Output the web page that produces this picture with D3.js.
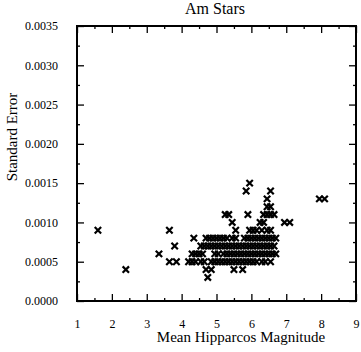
<!DOCTYPE html>
<html>
<head>
<meta charset="utf-8">
<title>Am Stars</title>
<script src="https://cdn.jsdelivr.net/npm/d3@7"></script>
<style>
  html, body { margin: 0; padding: 0; background: #fff; overflow: hidden; }
  svg { display: block; }
  text { font-family: "Liberation Serif", "DejaVu Serif", serif; fill: #000; }
</style>
</head>
<body>
<svg width="361" height="352" id="mainsvg"></svg>
<script>
  // rows of equal standard error, each with its magnitudes
  const isolated = [[1.6, 0.0009], [2.4, 0.0004], [3.35, 0.0006], [3.65, 0.0009],
                    [3.8, 0.0007], [3.65, 0.0005], [3.85, 0.0005], [6.95, 0.0010],
                    [7.1, 0.0010], [7.95, 0.0013], [8.1, 0.0013]];
  const row3 = [4.75];
  const row4 = [4.7, 4.85, 5.5, 5.75];
  const row5 = [4.2, 4.3, 4.4, 4.55, 4.65, 4.85, 4.95, 5.05, 5.15, 5.25, 5.35, 5.45, 5.55,
                5.65, 5.75, 5.85, 5.95, 6.05, 6.15, 6.3, 6.4, 6.55];
  const row6 = [4.3, 4.4, 4.5, 4.6, 4.95, 5.05, 5.2, 5.3, 5.4, 5.5, 5.6, 5.7, 5.8, 5.9,
                6.0, 6.1, 6.2, 6.3, 6.4, 6.5, 6.6, 6.7];
  const row7 = [4.55, 4.65, 4.75, 4.85, 4.95, 5.05, 5.15, 5.25, 5.35, 5.45, 5.55, 5.65,
                5.75, 5.85, 5.95, 6.05, 6.15, 6.25, 6.35, 6.45, 6.55, 6.65];
  const row8 = [4.35, 4.7, 4.8, 4.9, 5.0, 5.1, 5.2, 5.3, 5.45, 5.55, 5.8, 5.9, 6.0, 6.1,
                6.2, 6.3, 6.4, 6.5, 6.6, 6.7];
  const row9 = [5.55, 5.95, 6.05, 6.15, 6.3, 6.45, 6.55];
  const row10 = [5.45, 6.25, 6.35];
  const row11 = [5.25, 5.35, 5.9, 6.35, 6.45, 6.55, 6.65];
  const row12 = [6.45, 6.55];
  const row13 = [6.45];
  const row14 = [5.85, 6.55];
  const row15 = [5.95];

  const xTicks = [1, 2, 3, 4, 5, 6, 7, 8, 9];
  const yTicks = [0, 0.0005, 0.001, 0.0015, 0.002, 0.0025, 0.003, 0.0035];

  const rows = [[0.0003, row3], [0.0004, row4], [0.0005, row5], [0.0006, row6],
                [0.0007, row7], [0.0008, row8], [0.0009, row9], [0.0010, row10],
                [0.0011, row11], [0.0012, row12], [0.0013, row13], [0.0014, row14],
                [0.0015, row15]];
  const data = isolated.map(d => ({ mag: d[0], err: d[1] }));
  rows.forEach(r => r[1].forEach(m => data.push({ mag: m, err: r[0] })));

  const svg = d3.select('#mainsvg');
  const margin = { top: 26, right: 5, bottom: 51, left: 77 };
  const innerWidth = 361 - margin.left - margin.right;
  const innerHeight = 352 - margin.top - margin.bottom;

  const g = svg.append('g')
    .attr('transform', `translate(${margin.left}, ${margin.top})`);

  const xScale = d3.scaleLinear().domain([1, 9]).range([0, innerWidth]);
  const yScale = d3.scaleLinear().domain([0, 0.0035]).range([innerHeight, 0]);

  const fmt = d3.format('.4f');

  // inward ticks on all four sides, major + minor
  const xMinor = d3.range(1.5, 9, 1);
  const yMinor = d3.range(0.00025, 0.0035, 0.0005);

  const tickOnly = (sel) => sel.selectAll('text').remove();

  g.append('g').attr('transform', `translate(0, ${innerHeight})`)
    .call(d3.axisBottom(xScale).tickValues(xTicks).tickFormat(d3.format('d'))
      .tickSizeInner(-7).tickSizeOuter(0).tickPadding(18));
  g.append('g').attr('transform', `translate(0, ${innerHeight})`)
    .call(d3.axisBottom(xScale).tickValues(xMinor).tickSizeInner(-3).tickSizeOuter(0)).call(tickOnly);
  g.append('g')
    .call(d3.axisTop(xScale).tickValues(xTicks).tickSizeInner(-7).tickSizeOuter(0)).call(tickOnly);
  g.append('g')
    .call(d3.axisTop(xScale).tickValues(xMinor).tickSizeInner(-3).tickSizeOuter(0)).call(tickOnly);

  g.append('g')
    .call(d3.axisLeft(yScale).tickValues(yTicks).tickFormat(fmt)
      .tickSizeInner(-7).tickSizeOuter(0).tickPadding(19));
  g.append('g')
    .call(d3.axisLeft(yScale).tickValues(yMinor).tickSizeInner(-3).tickSizeOuter(0)).call(tickOnly);
  g.append('g').attr('transform', `translate(${innerWidth}, 0)`)
    .call(d3.axisRight(yScale).tickValues(yTicks).tickSizeInner(-7).tickSizeOuter(0)).call(tickOnly);
  g.append('g').attr('transform', `translate(${innerWidth}, 0)`)
    .call(d3.axisRight(yScale).tickValues(yMinor).tickSizeInner(-3).tickSizeOuter(0)).call(tickOnly);

  g.selectAll('.domain').remove();
  g.selectAll('.tick line').attr('stroke', '#000').attr('stroke-width', 1.3);
  g.selectAll('.tick text').attr('font-size', 12).style('font-family', '"Liberation Serif", serif');

  g.append('rect')
    .attr('width', innerWidth).attr('height', innerHeight)
    .attr('fill', 'none').attr('stroke', '#000').attr('stroke-width', 2);

  // x markers
  const s = 3.2;
  g.selectAll('.pt').data(data).enter().append('path')
    .attr('class', 'pt')
    .attr('d', d => {
      const cx = xScale(d.mag), cy = yScale(d.err);
      return `M${cx - s},${cy - s}L${cx + s},${cy + s}M${cx - s},${cy + s}L${cx + s},${cy - s}`;
    })
    .attr('stroke', '#000').attr('stroke-width', 2.2).attr('fill', 'none');

  svg.append('text').attr('x', 215).attr('y', 14)
    .attr('text-anchor', 'middle').attr('font-size', 16).text('Am Stars');
  svg.append('text').attr('x', 241).attr('y', 342)
    .attr('text-anchor', 'middle').attr('font-size', 15).text('Mean Hipparcos Magnitude');
  svg.append('text').attr('transform', 'translate(17, 137) rotate(-90)')
    .attr('text-anchor', 'middle').attr('font-size', 15).text('Standard  Error');
</script>
</body>
</html>
